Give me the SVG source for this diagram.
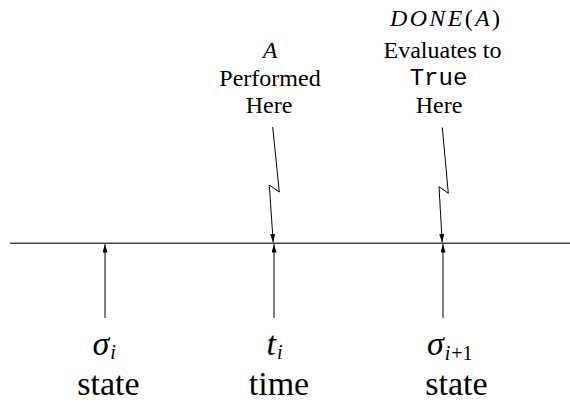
<svg xmlns="http://www.w3.org/2000/svg" width="570" height="402" viewBox="0 0 570 402">
<style>
.serif{font-family:"Liberation Serif",Tinos,"Noto Serif","DejaVu Serif",FreeSerif,"Times New Roman",Times,serif}
.mono{font-family:"Liberation Mono",Cousine,"Courier New","DejaVu Sans Mono",monospace}
.lbl{font-size:24px;text-anchor:middle}
.it{font-style:italic}
.big{font-size:34px;text-anchor:middle}
.math{font-size:34px;font-style:italic}
.sub{font-size:20px}
.ln{stroke:#000;stroke-width:1;fill:none}
</style>
<defs>
<marker id="ah" viewBox="0 0 10 6" refX="10" refY="3" markerWidth="9" markerHeight="5" markerUnits="userSpaceOnUse" orient="auto">
<path d="M0,0 L10,3 L0,6 z" fill="#000"/>
</marker>
</defs>
<rect width="570" height="402" fill="#fff"/>
<g id="timeline">
<line x1="10" y1="243.3" x2="570" y2="243.3" stroke="#444" stroke-width="1.5"/>
</g>
<g id="connectors">
<line class="ln" x1="105" y1="318" x2="105" y2="244.2" marker-end="url(#ah)"/>
<line class="ln" x1="274" y1="318" x2="274" y2="244.2" marker-end="url(#ah)"/>
<line class="ln" x1="443" y1="318" x2="443" y2="244.2" marker-end="url(#ah)"/>
<polyline class="ln" points="272.7,127 279.3,192 269.3,185 273.2,242.4" marker-end="url(#ah)"/>
<polyline class="ln" points="442.3,127.5 448.3,193.3 439,186.7 442.2,242.4" marker-end="url(#ah)"/>
</g>
<g class="serif" fill="#000">
<g id="performed">
<text class="lbl it" x="270" y="58">A</text>
<text class="lbl" x="270" y="86">Performed</text>
<text class="lbl" x="269" y="113">Here</text>
</g>
<g id="done">
<text class="lbl" x="445" y="26" textLength="110" lengthAdjust="spacing"><tspan class="it">DONE</tspan>(<tspan class="it">A</tspan>)</text>
<text class="lbl" x="442.5" y="57.5">Evaluates to</text>
<text class="lbl mono" x="438.5" y="85">True</text>
<text class="lbl" x="439" y="113">Here</text>
</g>
<g id="state-i">
<text class="math" x="92.5" y="355">σ<tspan class="sub" dx="1" dy="4">i</tspan></text>
<text class="big" x="108.5" y="395">state</text>
</g>
<g id="time-i">
<text class="math" x="266.5" y="355">t<tspan class="sub" dx="1" dy="4">i</tspan></text>
<text class="big" x="279" y="395">time</text>
</g>
<g id="state-i1">
<text class="math" x="427" y="355">σ<tspan class="sub" dx="1" dy="5">i</tspan><tspan class="sub" font-style="normal" dx="1">+1</tspan></text>
<text class="big" x="456.5" y="395">state</text>
</g>
</g>
</svg>
